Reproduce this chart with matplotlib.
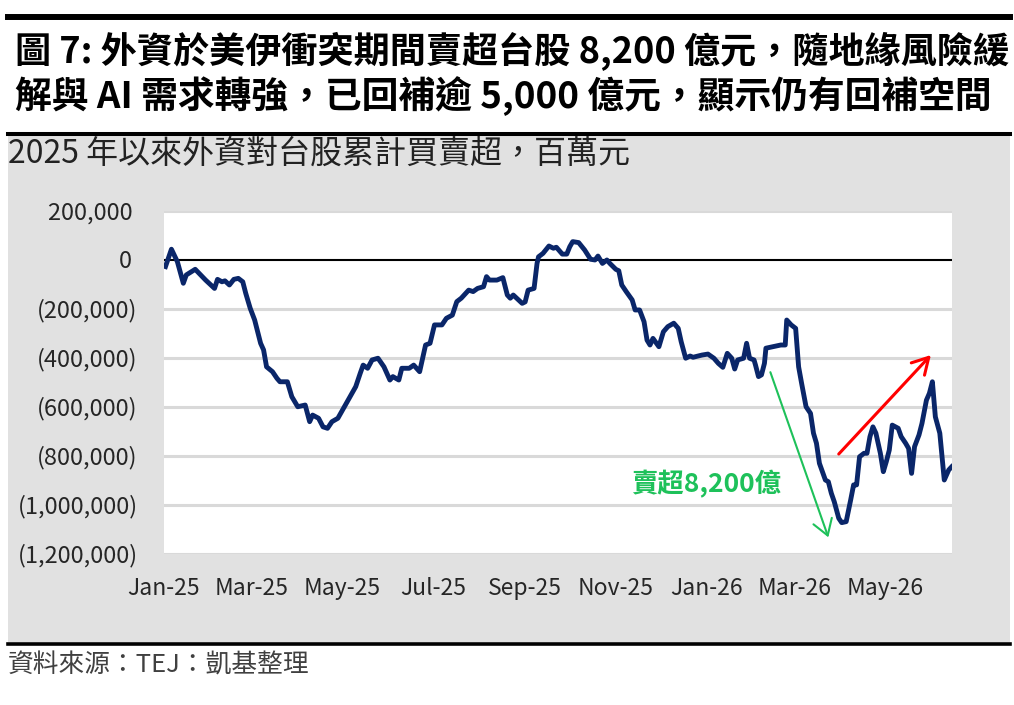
import matplotlib
matplotlib.use("Agg")
import matplotlib.pyplot as plt
import matplotlib.dates as mdates
from matplotlib.patches import Rectangle
from matplotlib.lines import Line2D
from matplotlib.ticker import FuncFormatter
import pandas as pd

plt.rcParams['font.family'] = ['Noto Sans CJK TC', 'DejaVu Sans']

title_lines = ['圖 7: 外資於美伊衝突期間賣超台股 8,200 億元，隨地緣風險緩',
               '解與 AI 需求轉強，已回補逾 5,000 億元，顯示仍有回補空間']
subtitle = '2025 年以來外資對台股累計買賣超，百萬元'
source = '資料來源：TEJ：凱基整理'

# cumulative net buy/sell, million NTD
dates = ['2025-01-02', '2025-01-06', '2025-01-10', '2025-01-14', '2025-01-16', '2025-01-22',
         '2025-01-29', '2025-02-04', '2025-02-06', '2025-02-09', '2025-02-11', '2025-02-14',
         '2025-02-17', '2025-02-20', '2025-02-23', '2025-02-25', '2025-02-28', '2025-03-03',
         '2025-03-07', '2025-03-09', '2025-03-11', '2025-03-15', '2025-03-18', '2025-03-20',
         '2025-03-25', '2025-03-28', '2025-04-01', '2025-04-06', '2025-04-09', '2025-04-11',
         '2025-04-15', '2025-04-18', '2025-04-21', '2025-04-24', '2025-04-28', '2025-05-03',
         '2025-05-10', '2025-05-13', '2025-05-15', '2025-05-18', '2025-05-21', '2025-05-25',
         '2025-05-29', '2025-06-02', '2025-06-04', '2025-06-08', '2025-06-10', '2025-06-15',
         '2025-06-18', '2025-06-22', '2025-06-26', '2025-06-29', '2025-07-02', '2025-07-07',
         '2025-07-10', '2025-07-14', '2025-07-17', '2025-07-20', '2025-07-25', '2025-07-28',
         '2025-07-31', '2025-08-04', '2025-08-06', '2025-08-08', '2025-08-13', '2025-08-17',
         '2025-08-20', '2025-08-22', '2025-08-24', '2025-08-30', '2025-09-01', '2025-09-03',
         '2025-09-07', '2025-09-09', '2025-09-10', '2025-09-13', '2025-09-17', '2025-09-20',
         '2025-09-22', '2025-09-26', '2025-09-29', '2025-10-01', '2025-10-03', '2025-10-07',
         '2025-10-11', '2025-10-15', '2025-10-18', '2025-10-20', '2025-10-23', '2025-10-26',
         '2025-10-28', '2025-11-01', '2025-11-03', '2025-11-05', '2025-11-08', '2025-11-12',
         '2025-11-14', '2025-11-17', '2025-11-20', '2025-11-22', '2025-11-24', '2025-11-26',
         '2025-11-30', '2025-12-03', '2025-12-06', '2025-12-10', '2025-12-13', '2025-12-15',
         '2025-12-18', '2025-12-21', '2025-12-23', '2025-12-29', '2026-01-02', '2026-01-06',
         '2026-01-09', '2026-01-12', '2026-01-15', '2026-01-18', '2026-01-20', '2026-01-22',
         '2026-01-26', '2026-01-28', '2026-01-30', '2026-02-02', '2026-02-03', '2026-02-05',
         '2026-02-07', '2026-02-09', '2026-02-10', '2026-02-20', '2026-02-23', '2026-02-24',
         '2026-02-27', '2026-03-02', '2026-03-04', '2026-03-06', '2026-03-09', '2026-03-12',
         '2026-03-14', '2026-03-16', '2026-03-18', '2026-03-22', '2026-03-24', '2026-03-26',
         '2026-03-28', '2026-03-31', '2026-04-02', '2026-04-05', '2026-04-08', '2026-04-10',
         '2026-04-12', '2026-04-14', '2026-04-17', '2026-04-19', '2026-04-21', '2026-04-23',
         '2026-04-25', '2026-04-28', '2026-04-30', '2026-05-02', '2026-05-04', '2026-05-06',
         '2026-05-10', '2026-05-12', '2026-05-15', '2026-05-17', '2026-05-19', '2026-05-21',
         '2026-05-24', '2026-05-26', '2026-05-29', '2026-05-31', '2026-06-02', '2026-06-04',
         '2026-06-07', '2026-06-10', '2026-06-13', '2026-06-15']
values = [-29000, 42000, -9000, -97000, -63000, -40000,
          -84000, -118000, -81000, -91000, -87000, -104000,
          -81000, -77000, -91000, -138000, -199000, -247000,
          -342000, -369000, -438000, -458000, -485000, -499000,
          -499000, -560000, -601000, -594000, -662000, -635000,
          -648000, -683000, -689000, -662000, -648000, -594000,
          -519000, -465000, -431000, -444000, -410000, -403000,
          -438000, -492000, -478000, -492000, -444000, -444000,
          -431000, -458000, -349000, -342000, -267000, -267000,
          -240000, -227000, -172000, -158000, -125000, -131000,
          -118000, -111000, -70000, -84000, -84000, -74000,
          -145000, -158000, -145000, -179000, -173000, -125000,
          -118000, -16000, 11000, 25000, 55000, 46000,
          50000, 22000, 22000, 52000, 73000, 69000,
          39000, 1000, -2000, 14000, -16000, -2000,
          -16000, -40000, -46000, -104000, -131000, -165000,
          -206000, -206000, -254000, -329000, -349000, -322000,
          -356000, -295000, -274000, -260000, -281000, -336000,
          -403000, -394000, -399000, -390000, -386000, -403000,
          -424000, -440000, -383000, -403000, -447000, -410000,
          -403000, -342000, -403000, -410000, -431000, -478000,
          -471000, -424000, -362000, -349000, -349000, -247000,
          -267000, -281000, -438000, -505000, -601000, -628000,
          -709000, -750000, -832000, -900000, -907000, -954000,
          -989000, -1056000, -1074000, -1070000, -982000, -920000,
          -920000, -805000, -791000, -791000, -723000, -683000,
          -709000, -791000, -866000, -825000, -778000, -676000,
          -689000, -723000, -750000, -771000, -873000, -764000,
          -716000, -669000, -574000, -546000, -499000, -642000,
          -709000, -900000, -859000, -846000]

yticks = list(range(-1200000, 200001, 200000))
tick_months = [1, 3, 5, 7, 9, 11]
x_range = ('2025-01-01', '2026-06-15')

sell_text = '賣超8,200億'
sell_text_at = ('2026-01-01', -916000)
sell_arrow = (('2026-02-13', -460000), ('2026-03-24', -1134000))
rebound_arrow = (('2026-03-31', -794000), ('2026-06-01', -390000))

W, H = 1014, 705


def pt(d, v):
    return (mdates.date2num(pd.Timestamp(d)), v)


def fmt_y(v, pos):
    if v < 0:
        return '({:,.0f})'.format(abs(v))
    return '{:,.0f} '.format(v)


fig = plt.figure(figsize=(W / 100, H / 100), dpi=100)
fig.patch.set_facecolor('white')

# grey chart panel and black rules
fig.patches.append(Rectangle((8 / W, 1 - 642 / H), 1002 / W, 506 / H, transform=fig.transFigure,
                             facecolor='#e1e1e1', edgecolor='none', zorder=-5))
fig.add_artist(Line2D([8 / W, 1010 / W], [1 - 17 / H] * 2, color='black', lw=4.3))
fig.add_artist(Line2D([8 / W, 1010 / W], [1 - 133.5 / H] * 2, color='black', lw=2.9))
fig.add_artist(Line2D([8 / W, 1010 / W], [1 - 643.5 / H] * 2, color='black', lw=2.6))

fig.text(15 / W, 1 - 51 / H, title_lines[0], fontsize=26, fontweight='bold', va='center', ha='left')
fig.text(15 / W, 1 - 96 / H, title_lines[1], fontsize=26.5, fontweight='bold', va='center', ha='left')
fig.text(8 / W, 1 - 154 / H, subtitle, fontsize=23, va='center', ha='left', color='#222222')
fig.text(8 / W, 1 - 666 / H, source, fontsize=18.5, va='center', ha='left', color='#404040',
         style='italic')

ax = fig.add_axes([164 / W, 1 - 553.5 / H, (951.7 - 164) / W, (553.5 - 210.5) / H])
ax.set_facecolor('white')

for y in yticks:
    if y != 0:
        ax.axhline(y, color='#d9d9d9', lw=2.2, zorder=1)
ax.axhline(0, color='black', lw=1.5, zorder=2)

ax.plot(pd.to_datetime(dates), values, color='#0a2669', lw=3.5, solid_joinstyle='round', zorder=3)

ax.set_ylim(-1200000, 200000)
ax.set_xlim(pd.Timestamp(x_range[0]), pd.Timestamp(x_range[1]))
ax.set_yticks(yticks)
ax.yaxis.set_major_formatter(FuncFormatter(fmt_y))
ax.xaxis.set_major_locator(mdates.MonthLocator(bymonth=tick_months))
ax.xaxis.set_major_formatter(mdates.DateFormatter('%b-%y'))
ax.tick_params(axis='both', length=0, colors='#262626')
ax.tick_params(axis='y', pad=19, labelsize=17)
ax.tick_params(axis='x', pad=17, labelsize=16.5)
for s in ax.spines.values():
    s.set_visible(False)

ax.annotate('', xy=pt(*sell_arrow[1]), xytext=pt(*sell_arrow[0]),
            arrowprops=dict(arrowstyle='->,head_length=1.1,head_width=0.7', color='#1ec15a',
                            lw=1.5, shrinkA=0, shrinkB=0, mutation_scale=10), zorder=4)
ax.annotate('', xy=pt(*rebound_arrow[1]), xytext=pt(*rebound_arrow[0]),
            arrowprops=dict(arrowstyle='->,head_length=1.15,head_width=0.65', color='#ff0000',
                            lw=2.2, shrinkA=0, shrinkB=0, mutation_scale=10), zorder=4)
ax.text(*pt(*sell_text_at), sell_text, fontsize=19, fontweight='bold', color='#1ec15a',
        ha='center', va='center', zorder=4)

fig.savefig('out.png', dpi=100)
